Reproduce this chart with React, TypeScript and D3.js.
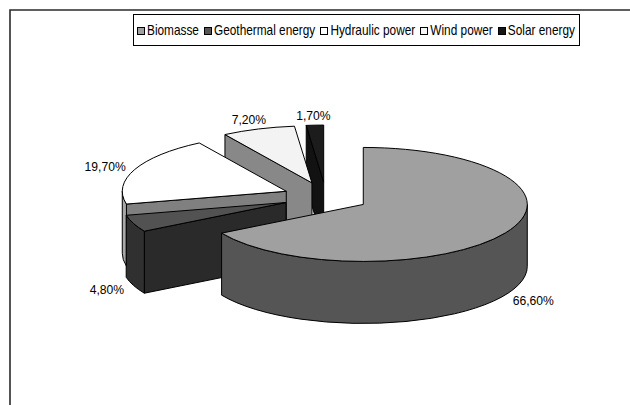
import React from "react";
import * as d3 from "d3";

// Energy mix shares (percent), in drawing order clockwise from 12 o'clock
const categories = ["Biomasse", "Geothermal energy", "Hydraulic power", "Wind power", "Solar energy"];
const shares = [66.6, 4.8, 19.7, 7.2, 1.7];

// Palette: top faces, outer walls, radial (cut) faces
const topColors = ["#a0a0a0", "#525252", "#ffffff", "#f3f3f3", "#1c1c1c"];
const wallColors = ["#555555", "#303030", "#a8a8a8", "#8a8a8a", "#141414"];
const cutColors = ["#555555", "#2a2a2a", "#808080", "#888888", "#121212"];
const legendColors = ["#a0a0a0", "#555555", "#ffffff", "#f6f6f6", "#151515"];

const W = 630;
const H = 405;
const FONT = "'Liberation Sans', Arial, sans-serif";

// 3D pie geometry
const CX = 326;
const CY = 197;
const RX = 164;
const RY = 57;
const DEPTH = 62;
const EXPLODE = 43;

const fmtPct = (v: number) => d3.format(".2f")(v).replace(".", ",") + "%";

let measureCtx: CanvasRenderingContext2D | null = null;
function textWidth(s: string, size: number): number {
  if (!measureCtx) {
    const c = document.createElement("canvas");
    measureCtx = c.getContext("2d");
  }
  if (!measureCtx) return s.length * size * 0.55;
  measureCtx.font = `${size}px 'Liberation Sans', Arial, sans-serif`;
  return measureCtx.measureText(s).width;
}

type P = [number, number];
const pt = (cx: number, cy: number, a: number, k = 1): P => [
  cx + RX * k * Math.sin(a),
  cy - RY * k * Math.cos(a),
];
const down = (p: P): P => [p[0], p[1] + DEPTH];
const f = (p: P) => `${p[0].toFixed(2)},${p[1].toFixed(2)}`;

function topPath(cx: number, cy: number, a0: number, a1: number) {
  const p0 = pt(cx, cy, a0);
  const p1 = pt(cx, cy, a1);
  const large = a1 - a0 > Math.PI ? 1 : 0;
  return `M${f([cx, cy])}L${f(p0)}A${RX},${RY} 0 ${large} 1 ${f(p1)}Z`;
}

function wallPath(cx: number, cy: number, a0: number, a1: number) {
  const s = Math.max(a0, Math.PI / 2);
  const e = Math.min(a1, (3 * Math.PI) / 2);
  if (e <= s) return null;
  const ps = pt(cx, cy, s);
  const pe = pt(cx, cy, e);
  const large = e - s > Math.PI ? 1 : 0;
  return `M${f(ps)}A${RX},${RY} 0 ${large} 1 ${f(pe)}L${f(down(pe))}A${RX},${RY} 0 ${large} 0 ${f(
    down(ps)
  )}Z`;
}

function cutPath(cx: number, cy: number, a: number) {
  const c: P = [cx, cy];
  const p = pt(cx, cy, a);
  return `M${f(c)}L${f(p)}L${f(down(p))}L${f(down(c))}Z`;
}

export default function App() {
  const arcs = d3
    .pie<number>()
    .sort(null)
    .value((d) => d)
    .startAngle(0)
    .endAngle(2 * Math.PI)(shares);

  const slices = arcs.map((a, i) => {
    const mid = (a.startAngle + a.endAngle) / 2;
    const cx = CX + EXPLODE * Math.sin(mid);
    const cy = CY - EXPLODE * (RY / RX) * Math.cos(mid);
    return { i, a0: a.startAngle, a1: a.endAngle, mid, cx, cy, value: a.data };
  });

  const order = [...slices].sort((p, q) => p.cy - q.cy);

  // Legend layout: condensed text so the row fills the box
  const legendSize = 14;
  const marker = 7;
  const markerGap = 3;
  const itemGap = 5;
  const boxX = 133;
  const boxW = 446;
  const boxY = 14;
  const boxH = 31;
  const inner = boxW - 8;
  const rawWidths = categories.map((c) => textWidth(c, legendSize));
  const fixed = categories.length * (marker + markerGap) + (categories.length - 1) * itemGap;
  const rawText = rawWidths.reduce((s, w) => s + w, 0);
  const squeeze = Math.min(1, (inner - fixed) / rawText);
  const widths = rawWidths.map((w) => w * squeeze);
  const total = widths.reduce((s, w) => s + w, 0) + fixed;
  let lx = boxX + (boxW - total) / 2;
  const legendItems = categories.map((c, i) => {
    const x = lx;
    lx += marker + markerGap + widths[i] + itemGap;
    return { c, x, i };
  });
  const legendMidY = boxY + boxH / 2 + 0.5;

  const labelSize = 13.5;
  const labelSqueeze = 0.9;

  return (
    <svg
      width={W}
      height={H}
      viewBox={`0 0 ${W} ${H}`}
      style={{ position: "absolute", left: 0, top: 0, background: "#ffffff" }}
      fontFamily={FONT}
    >
      <rect x={0} y={0} width={W} height={H} fill="#ffffff" />
      {/* chart area frame */}
      <path d={`M10,${H} V10 H${W}`} fill="none" stroke="#2a2a2a" strokeWidth={1.6} />

      {/* legend */}
      <rect x={boxX + 0.5} y={boxY + 0.5} width={boxW} height={boxH} fill="#ffffff" stroke="#000" strokeWidth={1} />
      {legendItems.map(({ c, x, i }) => (
        <g key={c}>
          <rect
            x={Math.round(x) + 0.5}
            y={Math.round(legendMidY - marker / 2) + 0.5}
            width={marker}
            height={marker}
            fill={legendColors[i]}
            stroke="#000"
            strokeWidth={1}
          />
          <text
            transform={`translate(${x + marker + markerGap},${legendMidY}) scale(${squeeze},1)`}
            dy="0.36em"
            fontSize={legendSize}
            fill="#000"
          >
            {c}
          </text>
        </g>
      ))}

      {/* pie slices, back to front */}
      {order.map((s) => {
        const wall = wallPath(s.cx, s.cy, s.a0, s.a1);
        const showStart = Math.sin(s.a0) < -1e-6;
        const showEnd = Math.sin(s.a1) > 1e-6;
        return (
          <g key={categories[s.i]} stroke="#000" strokeWidth={1} strokeLinejoin="round">
            {showStart && <path d={cutPath(s.cx, s.cy, s.a0)} fill={cutColors[s.i]} />}
            {showEnd && <path d={cutPath(s.cx, s.cy, s.a1)} fill={cutColors[s.i]} />}
            {wall && <path d={wall} fill={wallColors[s.i]} />}
            <path d={topPath(s.cx, s.cy, s.a0, s.a1)} fill={topColors[s.i]} />
          </g>
        );
      })}

      {/* value labels */}
      {slices.map((s) => {
        const txt = fmtPct(s.value);
        const w = textWidth(txt, labelSize) * labelSqueeze;
        const front = -Math.cos(s.mid) > 0;
        const anchor = pt(s.cx, s.cy, s.mid, 1.07);
        const ax = anchor[0] + (w / 2) * Math.sin(s.mid);
        const ay = anchor[1] + (front ? DEPTH : 0) + 6 * -Math.cos(s.mid);
        return (
          <text
            key={"lbl" + s.i}
            transform={`translate(${ax},${ay}) scale(${labelSqueeze},1)`}
            dy="0.36em"
            textAnchor="middle"
            fontSize={labelSize}
            fill="#000"
          >
            {txt}
          </text>
        );
      })}
    </svg>
  );
}
